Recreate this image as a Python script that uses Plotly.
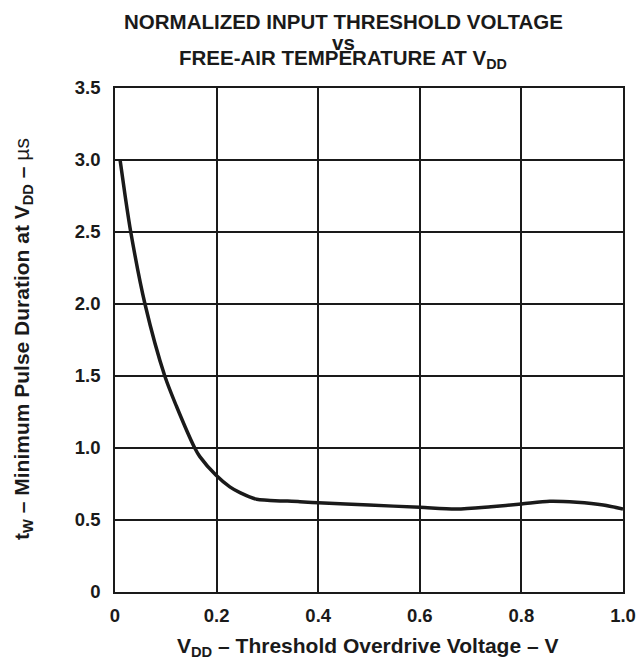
import plotly.graph_objects as go

# Curve
vdd = [0.010, 0.020, 0.031, 0.059, 0.098, 0.121, 0.157, 0.167, 0.199, 0.226, 0.246, 0.279, 0.300,
       0.364, 0.400, 0.500, 0.600, 0.672, 0.740, 0.800, 0.856, 0.909, 0.961, 1.000]
tw = [3.00, 2.75, 2.50, 2.00, 1.50, 1.29, 1.00, 0.94, 0.81, 0.73, 0.69, 0.644, 0.638,
      0.627, 0.620, 0.604, 0.588, 0.576, 0.592, 0.611, 0.630, 0.623, 0.604, 0.576]

x_ticks = [0, 0.2, 0.4, 0.6, 0.8, 1.0]
x_labels = ["0", "0.2", "0.4", "0.6", "0.8", "1.0"]
y_ticks = [0, 0.5, 1.0, 1.5, 2.0, 2.5, 3.0, 3.5]
y_labels = ["0", "0.5", "1.0", "1.5", "2.0", "2.5", "3.0", "3.5"]

FONT = "Liberation Sans, Arial, sans-serif"
INK = "#1a1a1a"

W, H = 639, 660
L, R, T, B = 115, 16, 88, 68
PH = H - T - B
PW = W - L - R


def py(page_y):
    return (H - B - page_y) / PH


def px(page_x):
    return (page_x - L) / PW


fig = go.Figure()
fig.add_trace(go.Scatter(x=vdd, y=tw, mode="lines",
                         line=dict(color=INK, width=3.5, shape="spline", smoothing=0.8),
                         showlegend=False, hoverinfo="skip"))

axis_common = dict(showgrid=True, gridcolor=INK, gridwidth=1.6,
                   showline=True, linecolor=INK, linewidth=1.6, mirror=True,
                   ticks="", zeroline=False, automargin=False,
                   tickfont=dict(family=FONT, size=18.5, color=INK))

fig.update_xaxes(range=[0, 1.0], tickvals=x_ticks,
                 ticktext=[f"<b>{t}</b>" for t in x_labels], ticklabelstandoff=6,
                 **axis_common)
fig.update_yaxes(range=[0, 3.5], tickvals=y_ticks,
                 ticktext=[f"<b>{t}</b>" for t in y_labels], ticklabelstandoff=9,
                 **axis_common)

titles = [("<b>NORMALIZED INPUT THRESHOLD VOLTAGE</b>", 21),
          ("<b>vs</b>", 42),
          ("<b>FREE-AIR TEMPERATURE AT V<sub>DD</sub></b>", 59)]
for txt, ypx in titles:
    fig.add_annotation(text=txt, xref="paper", yref="paper",
                       x=px(343), y=py(ypx),
                       xanchor="center", yanchor="middle", showarrow=False,
                       font=dict(family=FONT, size=20.5, color=INK))

fig.add_annotation(text="<b>V<sub>DD</sub> – Threshold Overdrive Voltage – V</b>",
                   xref="paper", yref="paper", x=px(367), y=py(647),
                   xanchor="center", yanchor="middle", showarrow=False,
                   font=dict(family=FONT, size=21, color=INK))
fig.add_annotation(text="<b>t<sub>W</sub> – Minimum Pulse Duration at V<sub>DD</sub> – </b>µs",
                   xref="paper", yref="paper", x=px(23), y=py(339),
                   xanchor="center", yanchor="middle", showarrow=False, textangle=-90,
                   font=dict(family=FONT, size=21, color=INK))

fig.update_layout(width=W, height=H,
                  margin=dict(l=L, r=R, t=T, b=B),
                  paper_bgcolor="white", plot_bgcolor="white")

fig.write_html("out.html", config={"displayModeBar": False},
               post_script="document.body.style.margin='0';document.body.style.overflow='hidden';")
